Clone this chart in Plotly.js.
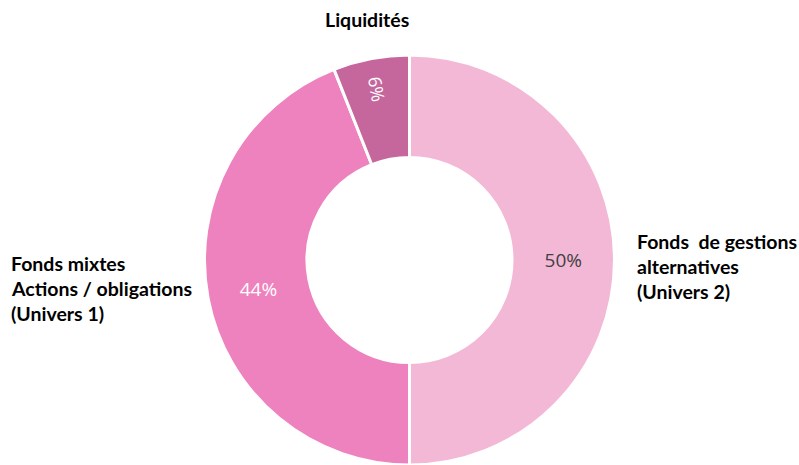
<!DOCTYPE html>
<html>
<head>
<meta charset="utf-8">
<script src="https://cdn.plot.ly/plotly-3.0.1.min.js"></script>
<style>html,body{margin:0;padding:0;background:#fff;}#chart{width:799px;height:465px;}</style>
</head>
<body>
<div id="chart"></div>
<script>
// Data
const categories = ["Fonds de gestions alternatives (Univers 2)", "Fonds mixtes Actions / obligations (Univers 1)", "Liquidités"];
const values = [50, 44, 6];
const sliceColors = ["#F4B8D7", "#EE82BE", "#C5679D"];
const textColors = ["#404040", "#FFFFFF", "#FFFFFF"];
// Outside label lines
const rightLabel = ["Fonds\u00a0 de gestions", "alternatives", "(Univers 2)"];
const leftLabel = ["Fonds mixtes", "Actions / obligations", "(Univers 1)"];
const topLabel = ["Liquidités"];

const W = 799, H = 465;
const cx = 409.5, cy = 260, R = 205;
const domain = {
  x: [(cx - R) / W, (cx + R) / W],
  y: [(H - cy - R) / H, (H - cy + R) / H]
};

const base = {
  type: "pie",
  values: values,
  labels: categories,
  sort: false,
  direction: "clockwise",
  rotation: 0,
  hole: 0.5,
  domain: domain,
  textposition: "inside",
  hoverinfo: "label+percent",
  showlegend: false
};

const traceMain = Object.assign({}, base, {
  marker: { colors: sliceColors, line: { color: "#FFFFFF", width: 3 } },
  texttemplate: values.map((v, i) => i < 2 ? "%{percent}" : ""),
  insidetextorientation: "horizontal",
  textfont: { family: "Open Sans, sans-serif", size: 19, color: textColors }
});

const traceSmall = Object.assign({}, base, {
  marker: { colors: values.map(() => "rgba(0,0,0,0)"), line: { width: 0 } },
  texttemplate: values.map((v, i) => i === 2 ? "%{percent}" : ""),
  insidetextorientation: "radial",
  textfont: { family: "Open Sans, sans-serif", size: 18, color: textColors },
  hoverinfo: "skip"
});

const font = { family: "Lato, sans-serif", size: 19.5, color: "#000000" };
const annotations = [];
function addLines(lines, px, py0, step, anchor) {
  lines.forEach((t, i) => {
    annotations.push({
      text: "<b>" + t + "</b>",
      xref: "paper", yref: "paper",
      x: px / W, y: 1 - (py0 + i * step) / H,
      xanchor: anchor, yanchor: "middle",
      showarrow: false, font: font
    });
  });
}
addLines(rightLabel, 635, 241, 25, "left");
addLines(leftLabel, 9, 263, 25, "left");
addLines(topLabel, 367, 20, 25, "center");

Plotly.newPlot("chart", [traceMain, traceSmall], {
  width: W, height: H,
  margin: { l: 0, r: 0, t: 0, b: 0 },
  paper_bgcolor: "#FFFFFF",
  showlegend: false,
  annotations: annotations
}, { displayModeBar: false, staticPlot: true });
</script>
</body>
</html>
